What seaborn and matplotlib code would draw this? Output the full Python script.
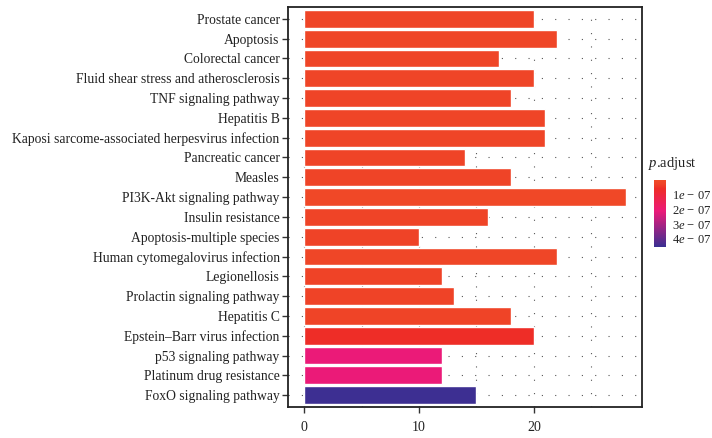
import matplotlib
matplotlib.use("Agg")
import matplotlib.pyplot as plt
import matplotlib.colors as mcolors
import numpy as np
import pandas as pd
import seaborn as sns

pathways = [
    "Prostate cancer", "Apoptosis", "Colorectal cancer",
    "Fluid shear stress and atherosclerosis", "TNF signaling pathway",
    "Hepatitis B", "Kaposi sarcome-associated herpesvirus infection",
    "Pancreatic cancer", "Measles", "PI3K-Akt signaling pathway",
    "Insulin resistance", "Apoptosis-multiple species",
    "Human cytomegalovirus infection", "Legionellosis",
    "Prolactin signaling pathway", "Hepatitis C",
    "Epstein–Barr virus infection", "p53 signaling pathway",
    "Platinum drug resistance", "FoxO signaling pathway",
]
counts = [20, 22, 17, 20, 18, 21, 21, 14, 18, 28, 16, 10, 22, 12, 13, 18, 20, 12, 12, 15]
p_adjust = [2.0e-08, 1.5e-08, 2.2e-08, 2.0e-08, 2.4e-08, 1.8e-08, 1.9e-08, 2.6e-08,
            2.4e-08, 1.0e-08, 2.5e-08, 2.8e-08, 1.6e-08, 2.8e-08, 2.7e-08, 2.5e-08,
            6.0e-08, 2.1e-07, 2.1e-07, 4.5e-07]
cbar_ticks = [1e-07, 2e-07, 3e-07, 4e-07]
cbar_labels = ["1$e$ \u2212 07", "2$e$ \u2212 07", "3$e$ \u2212 07", "4$e$ \u2212 07"]

sns.set_theme(style="white")
plt.rcParams["font.family"] = ["Liberation Serif", "DejaVu Serif"]
plt.rcParams["mathtext.fontset"] = "custom"
plt.rcParams["mathtext.rm"] = "Liberation Serif"
plt.rcParams["mathtext.it"] = "Liberation Serif:italic"

cmap = mcolors.LinearSegmentedColormap.from_list(
    "padj",
    [(0.0, "#F04A27"), (0.06, "#EF4327"), (0.13, "#EE2D27"),
     (0.46, "#EC1A78"), (1.0, "#3A2F92")])
vmin, vmax = 0.0, 4.55e-07
norm = mcolors.Normalize(vmin=vmin, vmax=vmax)

df = pd.DataFrame({"Description": pathways, "Count": counts, "p.adjust": p_adjust})
palette = {d: cmap(norm(p)) for d, p in zip(pathways, p_adjust)}

fig = plt.figure(figsize=(7.12, 4.38), dpi=100)
ax = fig.add_axes([288 / 712, (438 - 407) / 438, 354 / 712, 400 / 438])

sns.barplot(data=df, x="Count", y="Description", hue="Description",
            palette=palette, order=pathways, hue_order=pathways,
            legend=False, width=0.9, saturation=1, ax=ax, zorder=2)

ax.set_xlim(-1.4, 29.4)
ax.set_ylim(len(pathways) - 0.4, -0.6)
ax.set_xticks([0, 10, 20])
ax.set_xticks([5, 15, 25], minor=True)
ax.set_xlabel("")
ax.set_ylabel("")

grid_kw = dict(color="#555555", linewidth=0.8, linestyle=(0, (1, 11)), zorder=0)
for xv in [0, 5, 10, 15, 20, 25]:
    ax.axvline(xv, **grid_kw)
for i in range(len(pathways)):
    ax.axhline(i, **grid_kw)

for s in ax.spines.values():
    s.set_visible(True)
    s.set_color("#222222")
    s.set_linewidth(1.3)

ax.tick_params(axis="both", which="major", length=4, width=1.0, color="#333333",
               labelsize=9.8, labelcolor="#222222", pad=2, left=True, bottom=True)
ax.tick_params(axis="x", which="minor", length=0)
ax.tick_params(axis="x", pad=6, labelsize=10)

# colorbar
cax = fig.add_axes([654 / 712, (438 - 247) / 438, 12 / 712, 67 / 438])
sm = plt.cm.ScalarMappable(norm=norm, cmap=cmap)
cb = fig.colorbar(sm, cax=cax)
cb.outline.set_visible(False)
cax.invert_yaxis()
cb.set_ticks(cbar_ticks)
cb.set_ticklabels(cbar_labels)
cax.tick_params(length=0, labelsize=9, labelcolor="#222222", pad=4)
fig.text(648 / 712, (438 - 163) / 438, "$p$.adjust", fontsize=10.5,
         color="#222222", ha="left", va="center")

fig.savefig("out.png", dpi=100)
